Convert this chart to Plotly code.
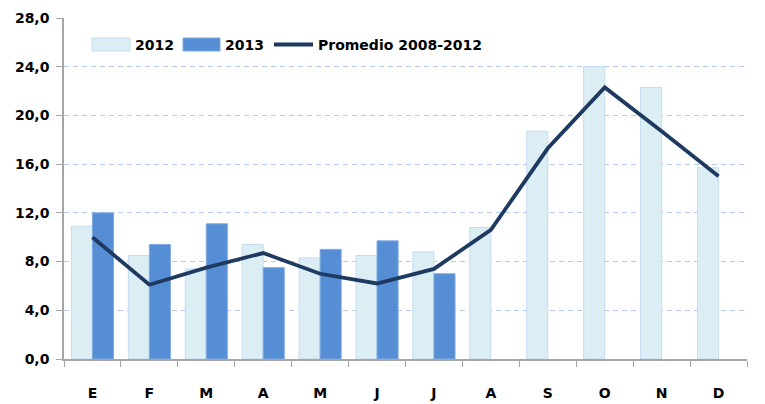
import plotly.graph_objects as go

months = ["E", "F", "M", "A", "M ", "J", "J ", "A ", "S", "O", "N", "D"]
month_labels = ["E", "F", "M", "A", "M", "J", "J", "A", "S", "O", "N", "D"]
v2012 = [10.9, 8.5, 7.4, 9.4, 8.3, 8.5, 8.8, 10.8, 18.7, 24.0, 22.3, 15.7]
v2013 = [12.0, 9.4, 11.1, 7.5, 9.0, 9.7, 7.0, None, None, None, None, None]
promedio = [10.0, 6.1, 7.5, 8.7, 7.0, 6.2, 7.4, 10.6, 17.3, 22.3, 18.7, 15.0]
y_ticks = [0, 4, 8, 12, 16, 20, 24, 28]
y_tick_text = ["0,0", "4,0", "8,0", "12,0", "16,0", "20,0", "24,0", "28,0"]
series_names = ["2012", "2013", "Promedio 2008-2012"]

font = "DejaVu Sans, Verdana, sans-serif"
c2012, c2012_edge = "#DBEEF4", "#C6DBF0"
c2013, c2013_edge = "#558ED5", "#7FAAE0"
cline = "#1F3A60"

# page body has an 8px margin; size the figure so the plot lands where the reference's is
OFF = 8
W, H = 765 - OFF, 404 - OFF
L, R, T, B = 64 - OFF, 18, 18 - OFF, 45
pw, ph = W - L - R, H - T - B

def px(x):  # window pixel -> paper fraction
    return (x - OFF - L) / pw

def py(y):
    return (OFF + H - B - y) / ph

fig = go.Figure()
fig.add_trace(go.Bar(x=months, y=v2012, name=series_names[0],
                     marker=dict(color=c2012, line=dict(color=c2012_edge, width=1))))
fig.add_trace(go.Bar(x=months, y=v2013, name=series_names[1],
                     marker=dict(color=c2013, line=dict(color=c2013_edge, width=1))))
fig.add_trace(go.Scatter(x=months, y=promedio, name=series_names[2], mode="lines",
                         line=dict(color=cline, width=3.8)))

# legend drawn as shapes + text
shapes = [
    dict(type="rect", xref="paper", yref="paper", x0=px(92), x1=px(130), y0=py(51), y1=py(38),
         fillcolor=c2012, line=dict(color=c2012_edge, width=1)),
    dict(type="rect", xref="paper", yref="paper", x0=px(183), x1=px(220), y0=py(51), y1=py(38),
         fillcolor=c2013, line=dict(color=c2013_edge, width=1)),
    dict(type="line", xref="paper", yref="paper", x0=px(274), x1=px(313), y0=py(44.5), y1=py(44.5),
         line=dict(color=cline, width=3.8)),
]
annotations = [
    dict(xref="paper", yref="paper", x=px(x0), y=py(44.5), text="<b>%s</b>" % n, showarrow=False,
         xanchor="left", yanchor="middle", font=dict(size=14, family=font, color="black"))
    for x0, n in zip([133, 223, 316], series_names)
]

fig.update_layout(
    width=W, height=H,
    margin=dict(l=L, r=R, t=T, b=B),
    plot_bgcolor="white", paper_bgcolor="white",
    barmode="group", bargap=0.26, bargroupgap=0,
    font=dict(family=font, size=14, color="black"),
    showlegend=False,
    shapes=shapes, annotations=annotations,
)
fig.update_xaxes(
    type="category", tickmode="array", tickvals=months, ticktext=["<b>%s</b>" % m for m in month_labels],
    showline=True, linecolor="#A6A6A6", linewidth=1.5,
    ticks="outside", ticklen=6, tickcolor="#A6A6A6", tickson="boundaries",
    showgrid=False, tickfont=dict(size=14), ticklabelstandoff=20, automargin=False,
)
fig.update_yaxes(
    range=[0, 28], tickmode="array", tickvals=y_ticks, ticktext=["<b>%s</b>" % t for t in y_tick_text],
    showline=True, linecolor="#A6A6A6", linewidth=1.5,
    ticks="outside", ticklen=6, tickcolor="#A6A6A6",
    showgrid=True, gridcolor="#B4CAEE", griddash="5px,4px", gridwidth=1.2,
    zeroline=False, tickfont=dict(size=14), ticklabelstandoff=4, automargin=False,
)

fig.write_html("out.html")
